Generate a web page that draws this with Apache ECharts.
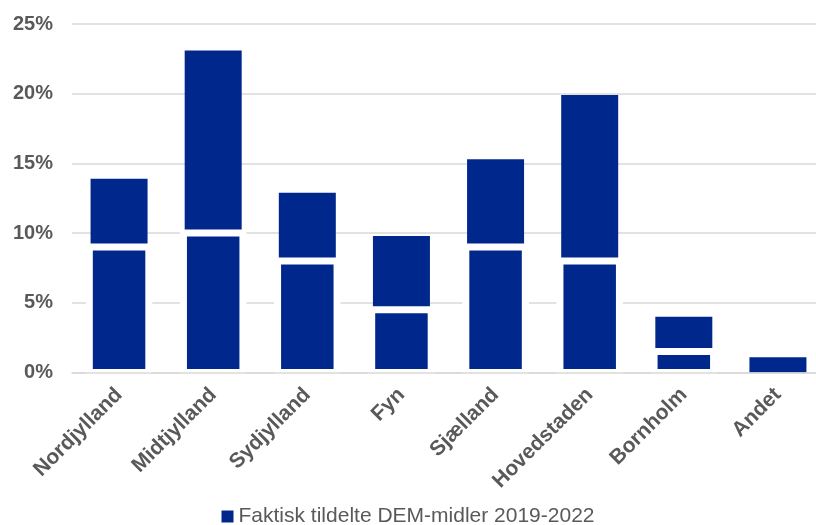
<!DOCTYPE html>
<html>
<head>
<meta charset="utf-8">
<script src="https://cdn.jsdelivr.net/npm/echarts@6/dist/echarts.min.js"></script>
<style>
html,body{margin:0;padding:0;background:#fff;}
#c{width:816px;height:525px;}
</style>
</head>
<body>
<div id="c"></div>
<script>
const categories = ['Nordjylland','Midtjylland','Sydjylland','Fyn','Sjælland','Hovedstaden','Bornholm','Andet'];
const totalShare = [13.9, 23.1, 12.9, 9.8, 15.3, 19.9, 4.0, 1.1];
const lowerShare = [9.0, 10.0, 8.0, 4.5, 9.0, 8.0, 1.5, null];
const yTicks = [0, 5, 10, 15, 20, 25];
const legendName = 'Faktisk tildelte DEM-midler 2019-2022';

const BLUE = '#00288C';
const GREY_TXT = '#595959';
const GRID = '#d9d9d9';
const FONT = '"Liberation Sans", Arial, sans-serif';
const LOWER_W = 59.5;   // px, outline centred on edge
const OUTLINE = 7;

const chart = echarts.init(document.getElementById('c'), null, {renderer: 'canvas'});
chart.setOption({
  animation: false,
  backgroundColor: '#ffffff',
  grid: {left: 72, right: -9, top: 24, bottom: 152.5, containLabel: false, outerBoundsMode: 'none'},
  legend: {
    data: [legendName],
    top: 501,
    left: 'center',
    icon: 'rect',
    itemWidth: 12,
    itemHeight: 12,
    itemGap: 10,
    textStyle: {fontFamily: FONT, fontSize: 21, color: GREY_TXT}
  },
  xAxis: {
    type: 'category',
    data: categories,
    z: 10,
    axisLine: {show: true, lineStyle: {color: GRID, width: 1.5}},
    axisTick: {show: false},
    axisLabel: {
      rotate: 45,
      interval: 0,
      margin: 19,
      fontFamily: FONT,
      fontWeight: 'bold',
      fontSize: 21,
      color: GREY_TXT
    }
  },
  yAxis: {
    type: 'value',
    min: yTicks[0],
    max: yTicks[yTicks.length - 1],
    interval: yTicks[1] - yTicks[0],
    axisLine: {show: false},
    axisTick: {show: false},
    splitLine: {lineStyle: {color: GRID, width: 1.5}},
    axisLabel: {
      formatter: '{value}%',
      margin: 19,
      fontFamily: FONT,
      fontWeight: 'bold',
      fontSize: 20,
      color: GREY_TXT
    }
  },
  series: [{
    name: legendName,
    type: 'bar',
    data: totalShare,
    barWidth: 57,
    itemStyle: {color: BLUE},
    z: 2
  }, {
    name: 'Nedre del',
    type: 'custom',
    data: lowerShare.map((v, i) => [i, v]),
    z: 3,
    clip: false,
    renderItem: function (params, api) {
      const v = api.value(1);
      if (v === null || v === undefined || isNaN(v)) return null;
      const top = api.coord([api.value(0), v]);
      const bot = api.coord([api.value(0), 0]);
      return {
        type: 'rect',
        shape: {x: top[0] - LOWER_W / 2, y: top[1], width: LOWER_W, height: bot[1] - top[1]},
        style: {fill: BLUE, stroke: '#ffffff', lineWidth: OUTLINE}
      };
    }
  }]
});
</script>
</body>
</html>
